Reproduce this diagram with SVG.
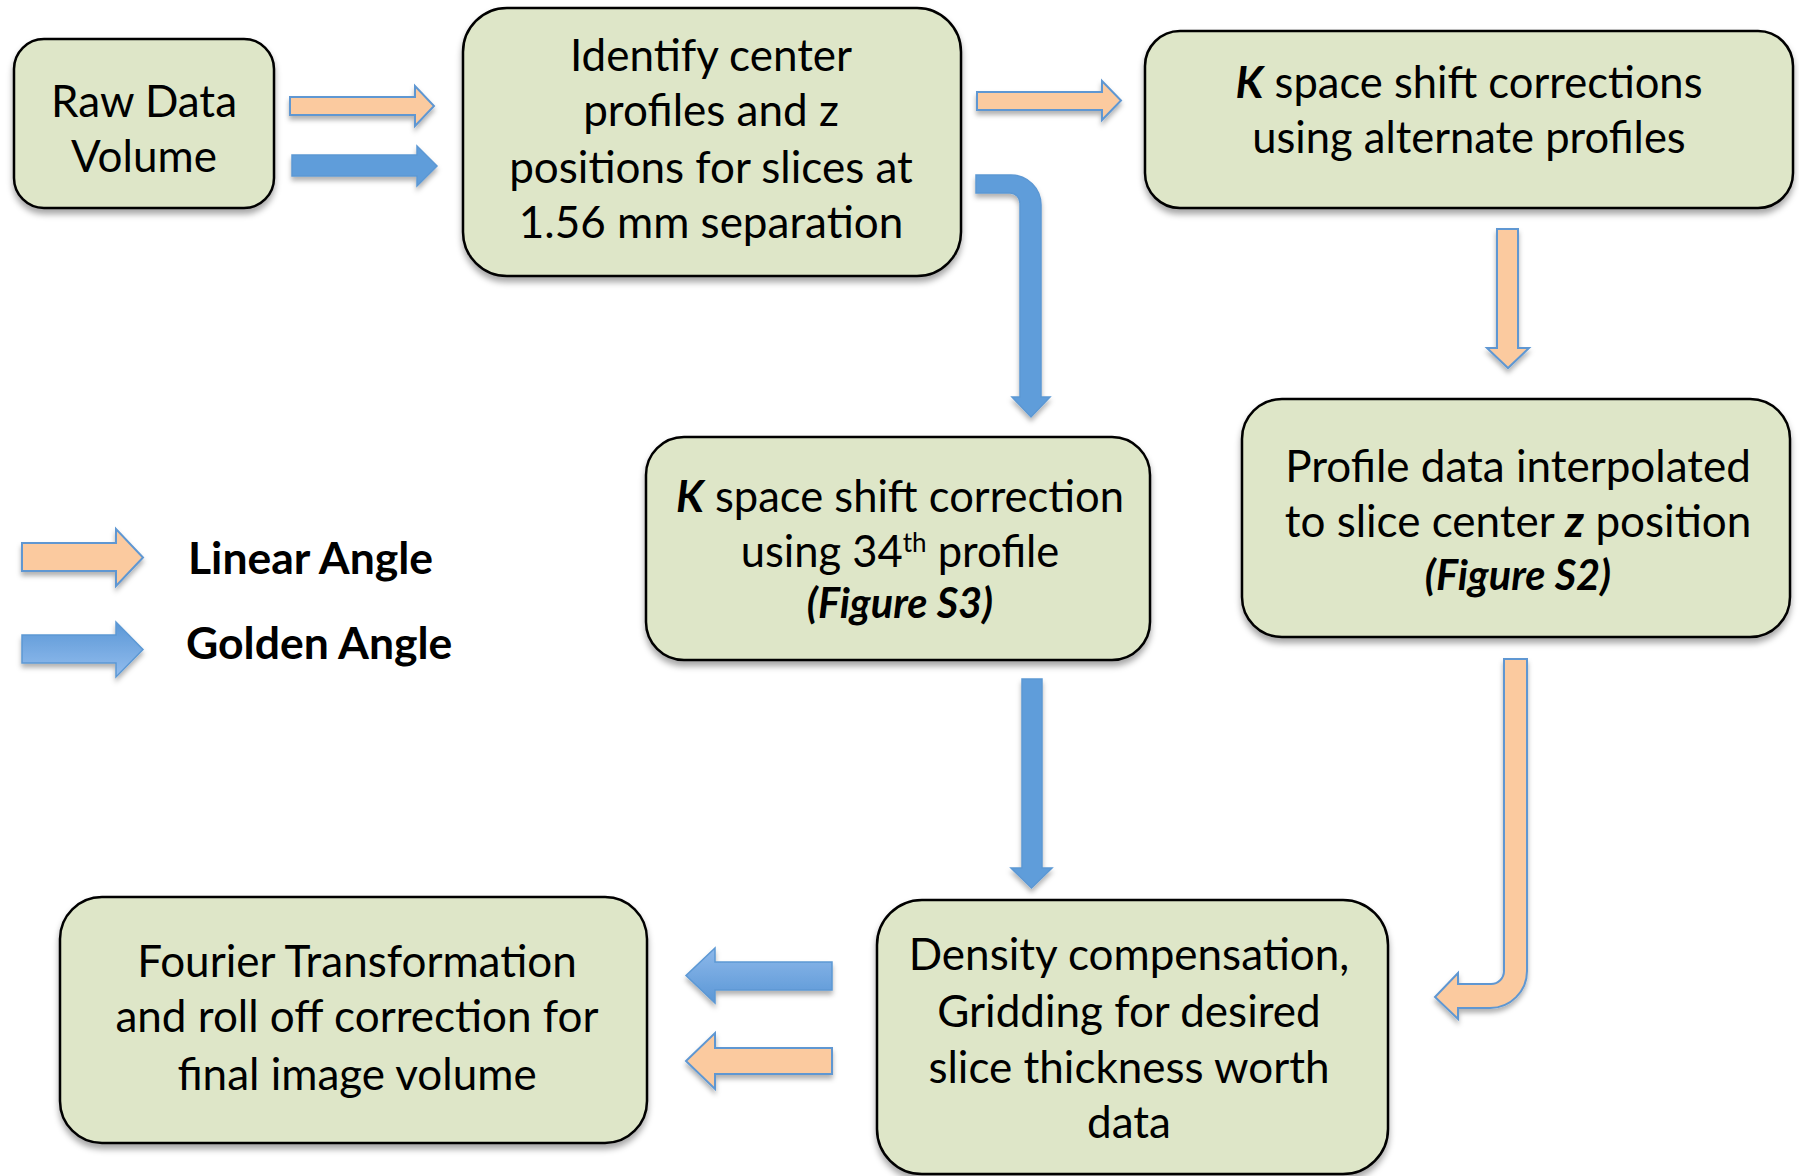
<svg xmlns="http://www.w3.org/2000/svg" width="1799" height="1176" viewBox="0 0 1799 1176">
<style>
.node rect{fill:#DEE6C8;stroke:#000;stroke-width:2.5;filter:url(#sh)}
.t{font-family:Lato,"Liberation Sans",sans-serif;font-size:44px;fill:#000;text-anchor:middle}
.s{font-size:43.5px}
.f{font-size:41.5px}
.bi{font-weight:bold;font-style:italic}
.lg{font-family:Lato,"Liberation Sans",sans-serif;font-size:44.5px;font-weight:bold;fill:#000}
.or{fill:#FBCA9F;stroke:#5F97D2;stroke-width:2;stroke-linejoin:miter;filter:url(#sh2)}
.bl{fill:#5F9DDA;stroke:#5C98D4;stroke-width:1.5;filter:url(#sh2)}
</style>
<defs>
<filter id="sh" x="-10%" y="-10%" width="120%" height="130%"><feDropShadow dx="0" dy="5" stdDeviation="3" flood-color="#000" flood-opacity="0.35"/></filter>
<filter id="sh2" x="-20%" y="-20%" width="140%" height="150%"><feDropShadow dx="0" dy="4" stdDeviation="2.5" flood-color="#000" flood-opacity="0.3"/></filter>
<linearGradient id="gb1" x1="0" y1="0" x2="0" y2="1"><stop offset="0" stop-color="#5A97D6"/><stop offset="1" stop-color="#93BDEE"/></linearGradient>
<linearGradient id="gb2" x1="0" y1="0" x2="0" y2="1"><stop offset="0" stop-color="#8DB8EA"/><stop offset="1" stop-color="#5A97D6"/></linearGradient>
</defs>
<g id="connectors">
<polygon class="or" points="290,97 415,97 415,86 434,106 415,126 415,115 290,115"/>
<polygon class="bl" points="292,155 417,155 417,146 437,166 417,186 417,176 292,176"/>
<polygon class="or" points="977,92 1102,92 1102,81 1121,100.5 1102,120 1102,110 977,110"/>
<path class="bl" d="M976,175 H1011 A30,30 0 0 1 1041,205 V397 H1050 L1031,417 L1012,397 H1020 V203 A10,10 0 0 0 1010,193 H976 Z"/>
<polygon class="or" points="1497,229 1518,229 1518,348 1529,348 1508,368 1487,348 1497,348"/>
<polygon class="bl" points="1022,679 1042,679 1042,868 1052,868 1031.5,888 1011,868 1022,868"/>
<path class="or" d="M1504,659 H1527 V971 A37,37 0 0 1 1490,1008 H1458 V1019 L1435,997 L1458,973 V984 H1491 A13,13 0 0 0 1504,971 Z"/>
<polygon class="bl" style="fill:url(#gb2)" points="832,962 715,962 715,948 686,975.5 715,1003 715,990 832,990"/>
<polygon class="or" points="832,1048 715,1048 715,1033 686,1061 715,1089 715,1074 832,1074"/>
</g>
<g id="legend">
<polygon class="or" points="22,543 116,543 116,529 143,557.5 116,586 116,571 22,571"/>
<polygon class="bl" style="fill:url(#gb1)" points="22,635 116,635 116,622 143,649.5 116,677 116,663 22,663"/>
<text class="lg" x="188" y="574">Linear Angle</text>
<text class="lg" x="186" y="659">Golden Angle</text>
</g>
<g id="n1" class="node"><rect x="14" y="39" width="260" height="169" rx="30"/>
<text class="t" x="144" y="117">Raw Data</text><text class="t" x="144" y="172">Volume</text></g>
<g id="n2" class="node"><rect x="463" y="8" width="498" height="268" rx="44"/>
<text class="t" x="711" y="71">Identify center</text><text class="t" x="711" y="126">profiles and z</text><text class="t" x="711" y="183">positions for slices at</text><text class="t" x="711" y="238">1.56 mm separation</text></g>
<g id="n3" class="node"><rect x="1145" y="31" width="648" height="177" rx="35"/>
<text class="t s" x="1469" y="98"><tspan class="bi">K</tspan> space shift corrections</text><text class="t s" x="1469" y="153">using alternate profiles</text></g>
<g id="n4" class="node"><rect x="646" y="437" width="504" height="223" rx="38"/>
<text class="t s" x="900" y="512"><tspan class="bi">K</tspan> space shift correction</text><text class="t s" x="900" y="567">using 34<tspan font-size="26" dy="-15">th</tspan><tspan dy="15"> profile</tspan></text><text class="t f bi" x="900" y="618">(Figure S3)</text></g>
<g id="n6" class="node"><rect x="1242" y="399" width="548" height="238" rx="40"/>
<text class="t" x="1518" y="482">Profile data interpolated</text><text class="t" x="1518" y="537">to slice center <tspan class="bi">z</tspan> position</text><text class="t f bi" x="1518" y="590">(Figure S2)</text></g>
<g id="n5" class="node"><rect x="877" y="900" width="511" height="274" rx="45"/>
<text class="t" x="1129" y="970">Density compensation,</text><text class="t" x="1129" y="1027">Gridding for desired</text><text class="t" x="1129" y="1083">slice thickness worth</text><text class="t" x="1129" y="1138">data</text></g>
<g id="n7" class="node"><rect x="60" y="897" width="587" height="246" rx="42"/>
<text class="t" x="357" y="977">Fourier Transformation</text><text class="t" x="357" y="1032">and roll off correction for</text><text class="t" x="357" y="1090">final image volume</text></g>
</svg>
